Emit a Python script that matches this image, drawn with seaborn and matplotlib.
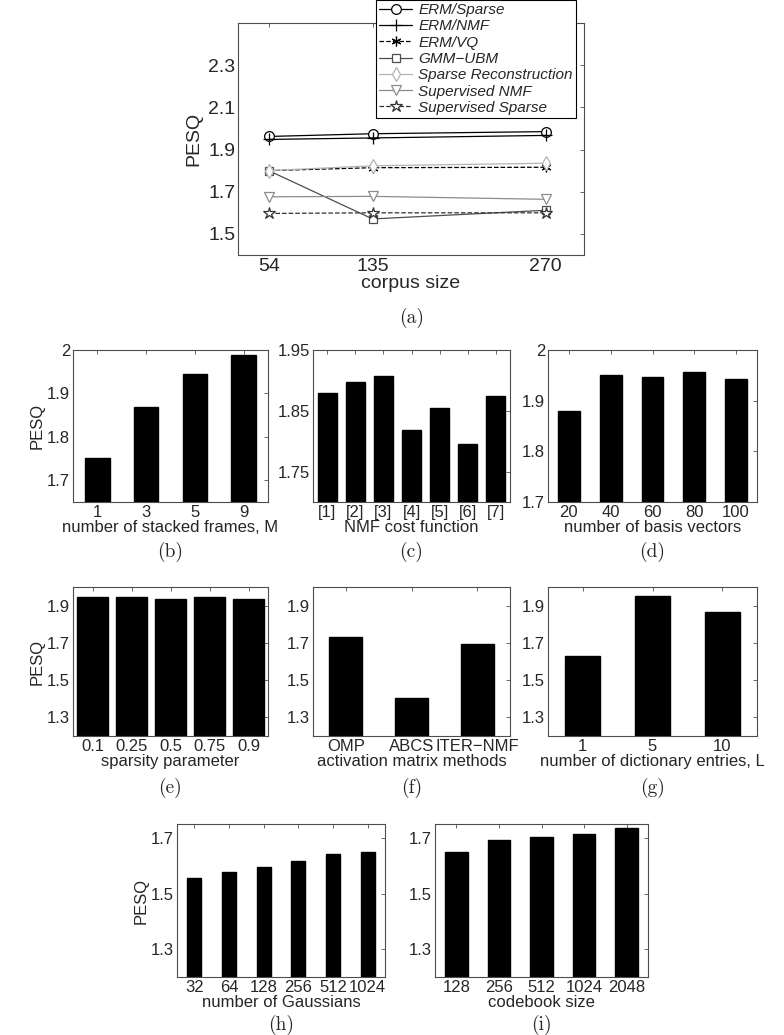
import numpy as np
import pandas as pd
import matplotlib
matplotlib.use("Agg")
import matplotlib.pyplot as plt
import seaborn as sns


# ---- data ----
corpus_size = [54, 135, 270]
erm_sparse = [1.962, 1.975, 1.985]
erm_nmf = [1.948, 1.955, 1.967]
erm_vq = [1.800, 1.814, 1.816]
gmm_ubm = [1.800, 1.571, 1.612]
sparse_rec = [1.800, 1.823, 1.835]
sup_nmf = [1.676, 1.678, 1.664]
sup_sparse = [1.597, 1.600, 1.600]

stacked_frames = ["1", "3", "5", "9"]
pesq_frames = [1.752, 1.868, 1.945, 1.988]

nmf_cost = ["[1]", "[2]", "[3]", "[4]", "[5]", "[6]", "[7]"]
pesq_cost = [1.879, 1.897, 1.908, 1.818, 1.855, 1.796, 1.874]

basis_vectors = ["20", "40", "60", "80", "100"]
pesq_basis = [1.879, 1.950, 1.947, 1.956, 1.943]

sparsity = ["0.1", "0.25", "0.5", "0.75", "0.9"]
pesq_sparsity = [1.948, 1.945, 1.938, 1.945, 1.935]

activation = ["OMP", "ABCS", "ITER\u2212NMF"]
pesq_activation = [1.733, 1.405, 1.693]

dict_entries = ["1", "5", "10"]
pesq_dict = [1.628, 1.953, 1.868]

gaussians = ["32", "64", "128", "256", "512", "1024"]
pesq_gauss = [1.557, 1.578, 1.596, 1.618, 1.642, 1.648]

codebook = ["128", "256", "512", "1024", "2048"]
pesq_codebook = [1.648, 1.693, 1.705, 1.713, 1.735]


sns.set_theme(style="white")
plt.rcParams["font.family"] = ["Liberation Sans", "DejaVu Sans"]
plt.rcParams["axes.edgecolor"] = "0.3"
plt.rcParams["axes.linewidth"] = 0.8

W, H = 784, 1035
fig = plt.figure(figsize=(W / 100, H / 100), dpi=100)


def px_axes(x0, y0, x1, y1):
    return fig.add_axes([x0 / W, 1 - y1 / H, (x1 - x0) / W, (y1 - y0) / H])


def matlab_ticks(ax, size):
    ax.tick_params(direction="in", top=True, right=True, length=3,
                   width=0.6, color="0.3", labelsize=size, pad=2)


def caption(x, y, s):
    fig.text(x / W, 1 - y / H, s, ha="center", va="center",
             family=["cmr10", "DejaVu Serif"], fontsize=14)


# ---- (a) line chart ----
ax = px_axes(238, 23, 584, 255)
series = [
    ("ERM/Sparse", erm_sparse, "black", "o", "-", 7),
    ("ERM/NMF", erm_nmf, "black", "+", "-", 8),
    ("ERM/VQ", erm_vq, "black", (6, 2, 0), "--", 7),
    ("GMM\u2212UBM", gmm_ubm, "0.3", "s", "-", 6),
    ("Sparse Reconstruction", sparse_rec, "0.7", "d", "-", 7),
    ("Supervised NMF", sup_nmf, "0.55", "v", "-", 7),
    ("Supervised Sparse", sup_sparse, "0.2", "*", "--", 9),
]
for name, vals, col, mk, ls, ms in series:
    sns.lineplot(x=corpus_size, y=vals, ax=ax, color=col, marker=mk,
                 linestyle=ls, markersize=ms, markerfacecolor="white",
                 markeredgecolor=col, markeredgewidth=0.9, linewidth=0.9,
                 label=name)
ax.set_xlim(30, 300)
ax.set_ylim(1.4, 2.5)
ax.set_xticks(corpus_size)
ax.set_yticks([1.5, 1.7, 1.9, 2.1, 2.3])
ax.set_yticklabels(["1.5", "1.7", "1.9", "2.1", "2.3"])
matlab_ticks(ax, 14)
ax.set_xlabel("corpus size", fontsize=14, labelpad=0)
ax.set_ylabel("PESQ", fontsize=14, labelpad=4)
leg = ax.legend(loc="upper right", bbox_to_anchor=(576 / W, 1.0),
                bbox_transform=fig.transFigure, frameon=True, fancybox=False,
                edgecolor="black", borderpad=0.2, labelspacing=0.15,
                handlelength=2.2, handletextpad=0.4, borderaxespad=0,
                prop={"style": "italic", "size": 11})
leg.get_frame().set_linewidth(0.8)
leg.get_frame().set_alpha(1)
caption(412, 318, "(a)")


cap_text = {
    "number of stacked frames, M": "(b)",
    "NMF cost function": "(c)",
    "number of basis vectors": "(d)",
    "sparsity parameter": "(e)",
    "activation matrix methods": "(f)",
    "number of dictionary entries, L": "(g)",
    "number of Gaussians": "(h)",
    "codebook size": "(i)",
}


# ---- bar panels ----
def bar_panel(box, cats, vals, width, ylim, yticks, xlabel, cap, ylabel=False):
    ax = px_axes(*box)
    sns.barplot(x=cats, y=vals, color="black", width=width, ax=ax,
                saturation=1, edgecolor="black")
    ax.set_xlim(-0.5, len(cats) - 0.5)
    ax.set_ylim(*ylim)
    ax.set_yticks(yticks)
    ax.set_yticklabels([f"{t:g}" for t in yticks])
    matlab_ticks(ax, 12)
    ax.set_xlabel(xlabel, fontsize=12, labelpad=0)
    if ylabel:
        ax.set_ylabel("PESQ", fontsize=12, labelpad=2)
    caption((box[0] + box[2]) / 2, cap, cap_text[xlabel])
    return ax


bar_panel((73, 350, 268, 502), stacked_frames, pesq_frames, 0.5,
          (1.65, 2.0), [1.7, 1.8, 1.9, 2.0], "number of stacked frames, M", 552,
          ylabel=True)
bar_panel((313, 350, 510, 502), nmf_cost, pesq_cost, 0.68,
          (1.70, 1.95), [1.75, 1.85, 1.95], "NMF cost function", 552)
bar_panel((548, 350, 757, 502), basis_vectors, pesq_basis, 0.52,
          (1.7, 2.0), [1.7, 1.8, 1.9, 2.0], "number of basis vectors", 552)

bar_panel((73, 587, 268, 736), sparsity, pesq_sparsity, 0.78,
          (1.2, 2.0), [1.3, 1.5, 1.7, 1.9], "sparsity parameter", 788,
          ylabel=True)
bar_panel((313, 587, 510, 736), activation, pesq_activation, 0.5,
          (1.2, 2.0), [1.3, 1.5, 1.7, 1.9], "activation matrix methods", 788)
bar_panel((548, 587, 757, 736), dict_entries, pesq_dict, 0.5,
          (1.2, 2.0), [1.3, 1.5, 1.7, 1.9], "number of dictionary entries, L", 788)

bar_panel((177, 824, 385, 977), gaussians, pesq_gauss, 0.4,
          (1.2, 1.75), [1.3, 1.5, 1.7], "number of Gaussians", 1025,
          ylabel=True)
bar_panel((435, 824, 648, 977), codebook, pesq_codebook, 0.53,
          (1.2, 1.75), [1.3, 1.5, 1.7], "codebook size", 1025)

fig.savefig("out.png", dpi=100)
